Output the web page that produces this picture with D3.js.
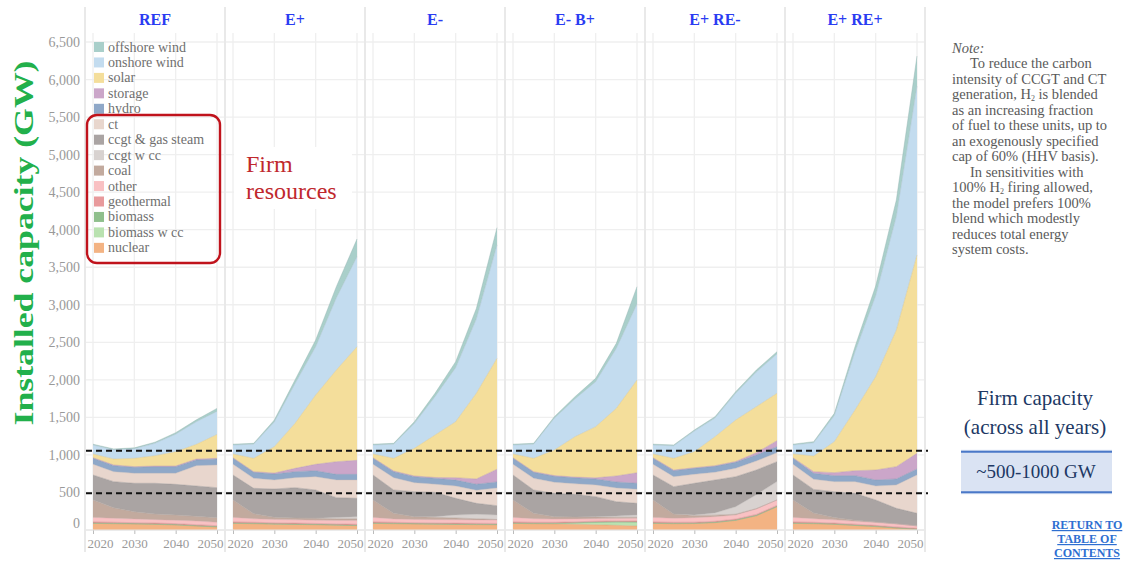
<!DOCTYPE html>
<html>
<head>
<meta charset="utf-8">
<script src="https://cdn.jsdelivr.net/npm/d3@7"></script>
<style>
  body { margin: 0; background: #fff; }
  svg { display: block; font-family: "Liberation Serif", "DejaVu Serif", serif; }
</style>
</head>
<body>
<svg id="chart" width="1129" height="561"></svg>
<script>
// Datos
const years = [2020, 2025, 2030, 2035, 2040, 2045, 2050];
const scenarios = ["REF", "E+", "E-", "E- B+", "E+ RE-", "E+ RE+"];

// orden de apilado, de abajo hacia arriba
const techs = ["nuclear", "biomass w cc", "biomass", "geothermal", "other", "coal", "ccgt w cc",
  "ccgt & gas steam", "ct", "hydro", "storage", "solar", "onshore wind", "offshore wind"];
const techColors = ["#f3b383", "#b9e2b0", "#8fbf8c", "#e89a9c", "#f9c1c3", "#c2aa9e", "#d8d2d0",
  "#aaa4a3", "#e8d6cd", "#8fa8c8", "#cba6c9", "#f4de9b", "#c3dcef", "#a9cfca"];

const yTicks = d3.range(0, 6501, 500);
const xTicks = [2020, 2030, 2040, 2050];
const firmLines = [490, 1055];

const REF = {
  "nuclear":          [88, 84, 80, 75, 67, 53, 40],
  "biomass w cc":     [0, 0, 0, 0, 0, 0, 0],
  "biomass":          [6, 6, 5, 5, 5, 5, 5],
  "geothermal":       [14, 13, 13, 13, 13, 13, 13],
  "other":            [60, 52, 49, 45, 44, 49, 44],
  "coal":             [232, 142, 97, 75, 71, 62, 62],
  "ccgt w cc":        [0, 0, 0, 0, 0, 0, 0],
  "ccgt & gas steam": [333, 347, 378, 409, 408, 404, 400],
  "ct":               [142, 133, 133, 133, 147, 271, 302],
  "hydro":            [80, 80, 80, 89, 89, 75, 80],
  "storage":          [8, 9, 9, 8, 8, 13, 9],
  "solar":            [50, 80, 111, 138, 191, 196, 318],
  "onshore wind":     [118, 122, 127, 165, 233, 301, 307],
  "offshore wind":    [12, 12, 12, 15, 20, 25, 40]
};

const E_PLUS = {
  "nuclear":          [88, 84, 78, 74, 70, 64, 58],
  "biomass w cc":     [0, 0, 0, 0, 0, 0, 0],
  "biomass":          [6, 6, 5, 5, 5, 5, 5],
  "geothermal":       [14, 13, 13, 13, 13, 13, 13],
  "other":            [60, 47, 44, 43, 42, 46, 49],
  "coal":             [232, 68, 29, 25, 25, 22, 23],
  "ccgt w cc":        [0, 0, 0, 0, 3, 15, 30],
  "ccgt & gas steam": [333, 337, 377, 404, 375, 266, 244],
  "ct":               [142, 133, 120, 133, 177, 235, 244],
  "hydro":            [80, 80, 80, 80, 80, 75, 75],
  "storage":          [8, 9, 13, 44, 85, 169, 187],
  "solar":            [50, 178, 351, 600, 923, 1221, 1513],
  "onshore wind":     [118, 188, 330, 527, 643, 960, 1199],
  "offshore wind":    [12, 12, 25, 50, 90, 150, 236]
};

const E_MINUS = {
  "nuclear":          [88, 84, 80, 77, 74, 72, 70],
  "biomass w cc":     [0, 0, 0, 0, 0, 0, 0],
  "biomass":          [6, 6, 5, 5, 5, 5, 5],
  "geothermal":       [14, 13, 13, 13, 13, 13, 13],
  "other":            [60, 44, 42, 43, 44, 44, 45],
  "coal":             [232, 75, 38, 32, 24, 16, 7],
  "ccgt w cc":        [0, 0, 0, 8, 40, 59, 60],
  "ccgt & gas steam": [333, 311, 333, 324, 222, 146, 124],
  "ct":               [142, 164, 119, 108, 163, 175, 236],
  "hydro":            [80, 80, 80, 80, 80, 80, 80],
  "storage":          [8, 9, 10, 10, 32, 70, 170],
  "solar":            [50, 169, 368, 565, 746, 1141, 1477],
  "onshore wind":     [118, 188, 330, 511, 719, 989, 1510],
  "offshore wind":    [12, 12, 25, 45, 80, 140, 230]
};

const E_MINUS_B_PLUS = {
  "nuclear":          [88, 84, 80, 76, 70, 62, 53],
  "biomass w cc":     [0, 0, 5, 15, 30, 42, 49],
  "biomass":          [6, 6, 5, 5, 5, 5, 5],
  "geothermal":       [14, 13, 13, 13, 13, 13, 13],
  "other":            [60, 47, 42, 39, 32, 30, 35],
  "coal":             [232, 72, 33, 24, 22, 18, 15],
  "ccgt w cc":        [0, 0, 0, 0, 5, 15, 30],
  "ccgt & gas steam": [333, 311, 310, 303, 267, 192, 155],
  "ct":               [142, 155, 147, 140, 156, 183, 187],
  "hydro":            [80, 80, 80, 80, 80, 80, 80],
  "storage":          [8, 9, 10, 10, 15, 80, 140],
  "solar":            [50, 178, 341, 538, 681, 901, 1236],
  "onshore wind":     [118, 188, 423, 503, 599, 798, 1013],
  "offshore wind":    [12, 12, 20, 30, 45, 67, 230]
};

const E_PLUS_RE_MINUS = {
  "nuclear":          [88, 84, 86, 98, 128, 190, 310],
  "biomass w cc":     [0, 0, 0, 0, 0, 0, 0],
  "biomass":          [6, 6, 5, 5, 5, 5, 5],
  "geothermal":       [14, 13, 13, 13, 13, 13, 13],
  "other":            [60, 52, 60, 62, 54, 72, 72],
  "coal":             [232, 58, 30, 20, 10, 5, 0],
  "ccgt w cc":        [0, 0, 5, 30, 100, 185, 245],
  "ccgt & gas steam": [333, 364, 423, 438, 400, 329, 265],
  "ct":               [142, 133, 119, 102, 111, 120, 120],
  "hydro":            [80, 80, 80, 80, 80, 80, 80],
  "storage":          [8, 9, 9, 9, 12, 30, 80],
  "solar":            [50, 156, 213, 386, 552, 614, 631],
  "onshore wind":     [118, 166, 274, 248, 356, 462, 524],
  "offshore wind":    [12, 12, 15, 18, 22, 26, 30]
};

const E_PLUS_RE_PLUS = {
  "nuclear":          [88, 84, 75, 60, 45, 25, 8],
  "biomass w cc":     [0, 0, 0, 0, 0, 0, 0],
  "biomass":          [6, 6, 5, 5, 5, 4, 3],
  "geothermal":       [14, 13, 13, 13, 12, 12, 12],
  "other":            [60, 47, 42, 37, 38, 39, 32],
  "coal":             [232, 75, 30, 15, 8, 4, 0],
  "ccgt w cc":        [0, 0, 0, 0, 0, 0, 0],
  "ccgt & gas steam": [333, 316, 345, 358, 292, 205, 167],
  "ct":               [142, 134, 134, 156, 186, 311, 511],
  "hydro":            [80, 80, 80, 80, 80, 80, 80],
  "storage":          [8, 22, 40, 66, 133, 164, 208],
  "solar":            [50, 209, 413, 808, 1243, 1820, 2642],
  "onshore wind":     [118, 176, 347, 774, 1078, 1511, 2250],
  "offshore wind":    [12, 15, 30, 70, 130, 220, 400]
};

const scenarioData = [REF, E_PLUS, E_MINUS, E_MINUS_B_PLUS, E_PLUS_RE_MINUS, E_PLUS_RE_PLUS];

const noteLines = [
  ["Note:", 0, true],
  ["To reduce the carbon", 1],
  ["intensity of CCGT and CT", 0],
  ["generation, H₂ is blended", 0],
  ["as an increasing fraction", 0],
  ["of fuel to these units, up to", 0],
  ["an exogenously specified", 0],
  ["cap of 60% (HHV basis).", 0],
  ["In sensitivities with", 1],
  ["100% H₂ firing allowed,", 0],
  ["the model prefers 100%", 0],
  ["blend which modestly", 0],
  ["reduces total energy", 0],
  ["system costs.", 0]
];

// Layout
const panelLeft = 85, panelW = 140, panelPad = 8;
const plotTop = 33, plotBottom = 530, stripTop = 7, stripBottom = 552;

const svg = d3.select("#chart");
const color = d3.scaleOrdinal().domain(techs).range(techColors);
const y = d3.scaleLinear().domain([0, 6500]).range([530, 42]);

// Rejilla y paneles
scenarios.forEach((name, i) => {
  const x0 = panelLeft + i * panelW;
  const x = d3.scaleLinear().domain([2020, 2050]).range([x0 + panelPad, x0 + panelW - panelPad]);
  const g = svg.append("g");

  // horizontal grid
  g.selectAll("line.hg").data(yTicks).join("line")
    .attr("x1", x0 + 1).attr("x2", x0 + panelW - 1)
    .attr("y1", d => y(d)).attr("y2", d => y(d))
    .attr("stroke", "#efefef").attr("stroke-width", 1.3);
  // vertical grid
  g.selectAll("line.vg").data(xTicks).join("line")
    .attr("x1", d => x(d)).attr("x2", d => x(d))
    .attr("y1", plotTop).attr("y2", plotBottom)
    .attr("stroke", "#efefef").attr("stroke-width", 1.3);

  // Stack
  const data = scenarioData[i];
  const rows = years.map((yr, k) => {
    const r = { year: yr };
    techs.forEach(t => r[t] = data[t][k]);
    return r;
  });
  const series = d3.stack().keys(techs)(rows);
  const area = d3.area()
    .x(d => x(d.data.year))
    .y0(d => y(d[0]))
    .y1(d => y(d[1]));
  const topLine = d3.line()
    .x(d => x(d.data.year))
    .y(d => y(d[1]));

  g.selectAll("path.layer").data(series).join("path")
    .attr("d", area)
    .attr("fill", d => color(d.key));
  g.selectAll("path.edge").data(series).join("path")
    .attr("d", topLine)
    .attr("fill", "none")
    .attr("stroke", d => d3.color(color(d.key)).darker(0.4))
    .attr("stroke-width", 0.7)
    .attr("stroke-opacity", 0.6);

  // X axis (las etiquetas extremas van hacia dentro)
  const xAxis = g.append("g")
    .attr("transform", `translate(0,${plotBottom})`)
    .call(d3.axisBottom(x).tickValues(xTicks).tickFormat(d3.format("d")).tickSize(4).tickPadding(5));
  xAxis.select(".domain").remove();
  xAxis.selectAll("line").attr("stroke", "#bbb");
  xAxis.selectAll("text").attr("fill", "#999").attr("font-size", 13)
    .attr("font-family", "Liberation Serif, serif")
    .attr("text-anchor", d => d === 2020 ? "start" : d === 2050 ? "end" : "middle")
    .attr("x", d => d === 2020 ? -6 : d === 2050 ? 6 : 0);
  g.append("line")
    .attr("x1", x0 + 1).attr("x2", x0 + panelW - 1)
    .attr("y1", plotBottom).attr("y2", plotBottom)
    .attr("stroke", "#e4e4e4");

  // panel separator
  g.append("line")
    .attr("x1", x0).attr("x2", x0)
    .attr("y1", stripTop).attr("y2", stripBottom)
    .attr("stroke", "#e2e2e2").attr("stroke-width", 1.5);

  // header
  g.append("text")
    .attr("x", x0 + panelW / 2).attr("y", 25)
    .attr("text-anchor", "middle")
    .attr("font-weight", "bold").attr("font-size", 16)
    .attr("fill", "#2a3cf2")
    .text(name);
});
svg.append("line")
  .attr("x1", panelLeft + 6 * panelW).attr("x2", panelLeft + 6 * panelW)
  .attr("y1", stripTop).attr("y2", stripBottom)
  .attr("stroke", "#e2e2e2").attr("stroke-width", 1.5);

// Y axis
const yAxis = svg.append("g")
  .attr("transform", `translate(${panelLeft - 5},0)`)
  .call(d3.axisLeft(y).tickValues(yTicks).tickFormat(d3.format(",")).tickSize(0).tickPadding(0));
yAxis.select(".domain").remove();
yAxis.selectAll("text").attr("fill", "#999").attr("font-size", 14)
  .attr("font-family", "Liberation Serif, serif")
  .attr("dy", d => d === 0 ? "-0.2em" : "0.32em");

svg.append("text")
  .attr("transform", "translate(33,243) rotate(-90)")
  .attr("text-anchor", "middle")
  .attr("font-weight", "bold").attr("font-size", 27)
  .attr("fill", "#22b04b")
  .attr("textLength", 365).attr("lengthAdjust", "spacingAndGlyphs")
  .text("Installed capacity (GW)");

// Legend
const legend = svg.append("g");
const legendItems = techs.slice().reverse();
legendItems.forEach((t, k) => {
  const cy = 47 + k * 15.45;
  legend.append("rect")
    .attr("x", 94).attr("y", cy - 5).attr("width", 10).attr("height", 10)
    .attr("fill", color(t));
  legend.append("text")
    .attr("x", 108).attr("y", cy + 4.5)
    .attr("font-size", 14).attr("fill", "#6f6f6f")
    .text(t);
});
legend.append("rect")
  .attr("x", 87).attr("y", 115).attr("width", 133).attr("height", 148)
  .attr("rx", 10).attr("fill", "none")
  .attr("stroke", "#c0131c").attr("stroke-width", 2.4);

// Firm resources label
svg.append("rect")
  .attr("x", 234).attr("y", 147).attr("width", 118).attr("height", 62)
  .attr("fill", "#fff");
svg.append("text")
  .attr("x", 246).attr("y", 172)
  .attr("font-size", 24).attr("fill", "#c0282d")
  .selectAll("tspan").data(["Firm", "resources"]).join("tspan")
  .attr("x", 246).attr("dy", (d, k) => k ? 27 : 0)
  .text(d => d);

// Firm capacity dashed lines
svg.selectAll("line.firm").data(firmLines).join("line")
  .attr("x1", 86).attr("x2", 928)
  .attr("y1", d => y(d)).attr("y2", d => y(d))
  .attr("stroke", "#111").attr("stroke-width", 2)
  .attr("stroke-dasharray", "6,4");

// Note
const note = svg.append("g").attr("fill", "#5a5a5a").attr("font-size", 14.5);
noteLines.forEach((ln, k) => {
  const t = note.append("text")
    .attr("x", ln[1] ? 970 : 952)
    .attr("y", 52.5 + k * 15.5)
    .attr("font-style", ln[2] ? "italic" : null);
  const parts = ln[0].split("₂");
  parts.forEach((p, j) => {
    if (j > 0) {
      t.append("tspan").text("2").attr("font-size", 8).attr("dy", 2);
      t.append("tspan").text(p).attr("dy", -2);
    } else {
      t.append("tspan").text(p);
    }
  });
});

// Firm capacity box
svg.append("text")
  .attr("x", 1035).attr("y", 405)
  .attr("text-anchor", "middle")
  .attr("font-size", 21).attr("fill", "#203864")
  .text("Firm capacity");
svg.append("text")
  .attr("x", 1035).attr("y", 434)
  .attr("text-anchor", "middle")
  .attr("font-size", 21).attr("fill", "#203864")
  .text("(across all years)");
svg.append("rect")
  .attr("x", 961).attr("y", y(firmLines[1]) - 1).attr("width", 151)
  .attr("height", y(firmLines[0]) - y(firmLines[1]) + 2)
  .attr("fill", "#dae3f3");
svg.selectAll("line.boxedge").data(firmLines).join("line")
  .attr("x1", 961).attr("x2", 1112)
  .attr("y1", (d, k) => y(d) + (k ? 1 : -1)).attr("y2", (d, k) => y(d) + (k ? 1 : -1))
  .attr("stroke", "#4a78c8").attr("stroke-width", 2);
svg.append("text")
  .attr("x", 1036).attr("y", 478)
  .attr("text-anchor", "middle")
  .attr("font-size", 19).attr("fill", "#203864")
  .text("~500-1000 GW");

// Return link
svg.append("g")
  .attr("font-size", 12).attr("font-weight", "bold")
  .attr("fill", "#2e6fd1").attr("text-decoration", "underline")
  .selectAll("text").data(["RETURN TO", "TABLE OF", "CONTENTS"]).join("text")
  .attr("x", 1087).attr("y", (d, k) => 529 + k * 14)
  .attr("text-anchor", "middle")
  .text(d => d);
</script>
</body>
</html>
